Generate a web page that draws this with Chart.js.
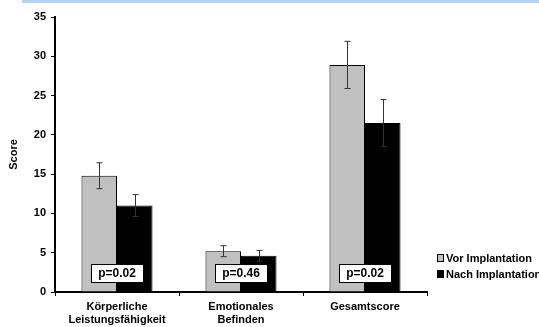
<!DOCTYPE html>
<html>
<head>
<meta charset="utf-8">
<script src="https://cdn.jsdelivr.net/npm/chart.js@4.4.0/dist/chart.umd.min.js"></script>
<style>
  html, body { margin: 0; padding: 0; background: #fff; overflow: hidden; }
  #wrap { position: relative; width: 539px; height: 327px; }
  #band { position: absolute; left: 22px; right: 0; top: 0; height: 3px; background: #b4d0f4; }
</style>
</head>
<body>
<div id="wrap">
  <div id="band"></div>
  <canvas id="chart" width="539" height="327"></canvas>
</div>
<script>
// data
var categories = [['Körperliche', 'Leistungsfähigkeit'], ['Emotionales', 'Befinden'], 'Gesamtscore'];
var seriesNames = ['Vor Implantation', 'Nach Implantation'];
var vorValues = [14.8, 5.2, 28.9];
var vorErrors = [1.65, 0.7, 3.0];
var nachValues = [11.0, 4.6, 21.5];
var nachErrors = [1.4, 0.7, 3.0];
var pValues = ['p=0.02', 'p=0.46', 'p=0.02'];
var yTicks = [0, 5, 10, 15, 20, 25, 30, 35];

var FONT = 'Arial, "Liberation Sans", sans-serif';

var errorBars = {
    id: 'errorBars',
    afterDatasetsDraw: function (chart) {
        var ctx = chart.ctx;
        var y = chart.scales.y;
        var errs = [vorErrors, nachErrors];
        var vals = [vorValues, nachValues];
        ctx.save();
        ctx.strokeStyle = '#333';
        ctx.lineWidth = 1;
        for (var d = 0; d < 2; d++) {
            var meta = chart.getDatasetMeta(d);
            meta.data.forEach(function (bar, i) {
                var x = Math.round(bar.x) + 0.5;
                var top = y.getPixelForValue(vals[d][i] + errs[d][i]);
                var bot = y.getPixelForValue(vals[d][i] - errs[d][i]);
                ctx.beginPath();
                ctx.moveTo(x, top); ctx.lineTo(x, bot);
                ctx.moveTo(x - 3, top); ctx.lineTo(x + 3, top);
                ctx.moveTo(x - 3, bot); ctx.lineTo(x + 3, bot);
                ctx.stroke();
            });
        }
        // p-value boxes
        var area = chart.chartArea;
        ctx.font = 'bold 12px ' + FONT;
        ctx.textAlign = 'center';
        ctx.textBaseline = 'middle';
        pValues.forEach(function (p, i) {
            var cx = chart.scales.x.getPixelForValue(i);
            var bx = Math.round(cx - 26) + 0.5, by = area.bottom - 27.5;
            ctx.fillStyle = '#fff';
            ctx.fillRect(bx, by, 52, 18);
            ctx.strokeStyle = '#000';
            ctx.strokeRect(bx, by, 52, 18);
            ctx.fillStyle = '#000';
            ctx.fillText(p, cx, by + 9.5);
        });
        // legend
        ctx.font = 'bold 11px ' + FONT;
        ctx.textAlign = 'left';
        var fills = ['#c0c0c0', '#000'];
        seriesNames.forEach(function (name, i) {
            var ly = 258 + i * 16;
            ctx.fillStyle = fills[i];
            ctx.fillRect(437.5, ly - 3.5, 6, 7);
            ctx.strokeStyle = '#000';
            ctx.strokeRect(437.5, ly - 3.5, 6, 7);
            ctx.fillStyle = '#000';
            ctx.fillText(name, 446, ly + 1);
        });
        ctx.restore();
    }
};

new Chart(document.getElementById('chart').getContext('2d'), {
    type: 'bar',
    data: {
        labels: categories,
        datasets: [{
            label: seriesNames[0],
            data: vorValues,
            backgroundColor: '#c0c0c0',
            borderColor: '#000',
            borderWidth: 1
        }, {
            label: seriesNames[1],
            data: nachValues,
            backgroundColor: '#000',
            borderColor: '#000',
            borderWidth: 1
        }]
    },
    options: {
        responsive: false,
        animation: false,
        categoryPercentage: 0.573,
        barPercentage: 1,
        layout: { padding: { top: 17, right: 112, left: 0, bottom: 0 } },
        plugins: { legend: { display: false }, tooltip: { enabled: false } },
        scales: {
            x: {
                afterFit: function (s) { s.height = 35; },
                grid: { drawOnChartArea: false, drawTicks: true, tickLength: 4, color: '#000', offset: true },
                border: { color: '#000', width: 2 },
                ticks: { color: '#000', font: { family: FONT, size: 11, weight: 'bold' }, padding: 4, maxRotation: 0 }
            },
            y: {
                min: 0,
                max: 35,
                afterFit: function (s) { s.width = 55; },
                afterBuildTicks: function (s) { s.ticks = yTicks.map(function (v) { return { value: v }; }); },
                grid: { drawOnChartArea: false, drawTicks: true, tickLength: 4, color: '#000' },
                border: { color: '#000', width: 2 },
                ticks: { color: '#000', font: { family: FONT, size: 11, weight: 'bold' }, padding: 5 },
                title: { display: true, text: 'Score', color: '#000', font: { family: FONT, size: 11, weight: 'bold' }, padding: { top: 7, bottom: 0 } }
            }
        }
    },
    plugins: [errorBars]
});
</script>
</body>
</html>
